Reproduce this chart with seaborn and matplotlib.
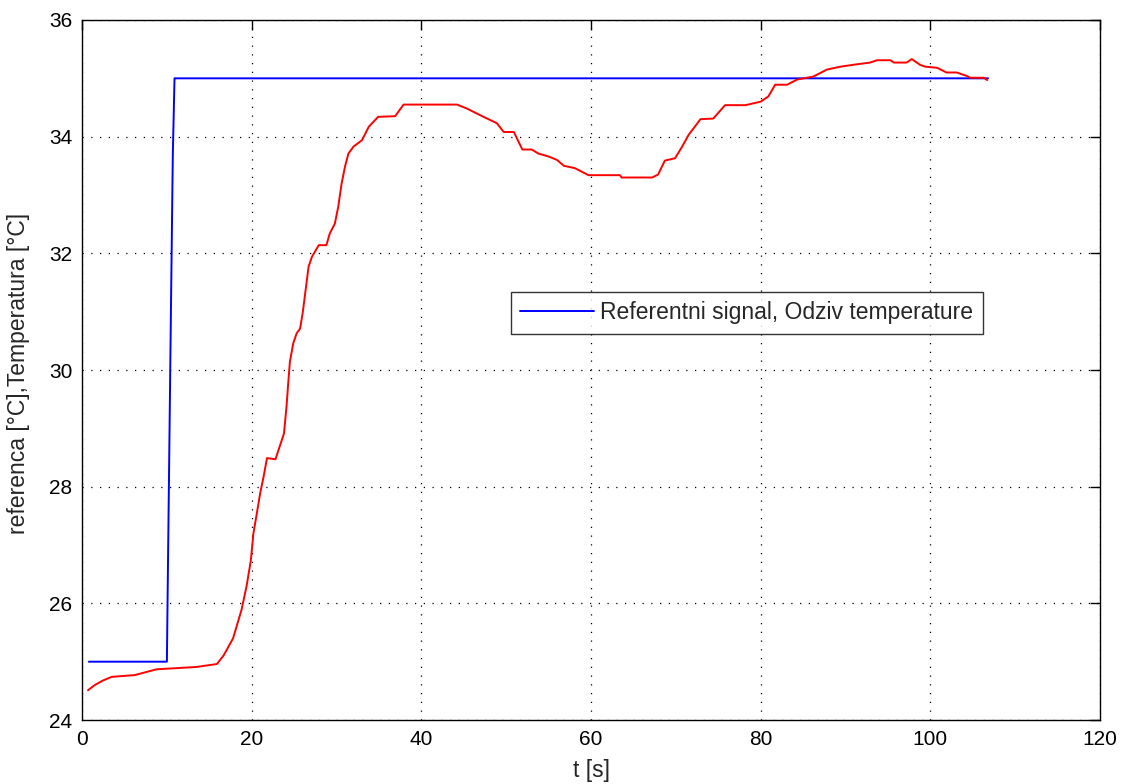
import matplotlib
matplotlib.use("Agg")
import matplotlib.pyplot as plt
import seaborn as sns
import pandas as pd

# Reference (setpoint) signal
ref_t = [0.8, 10.0, 10.1, 10.3, 10.5, 10.7, 10.9, 106.8]
ref_y = [25.0, 25.0, 26.3, 28.8, 31.3, 33.7, 35.0, 35.0]

# Measured temperature response
temp_t = [0.7, 1.5, 2.5, 3.5, 6.2, 8.8, 11.2, 13.5, 15.9, 16.7, 17.8, 18.8, 19.4,
          19.9, 20.2, 20.6, 21.0, 21.4, 21.8, 22.8, 23.3, 23.8, 24.1, 24.3, 24.5,
          24.9, 25.3, 25.7, 26.0, 26.3, 26.7, 27.1, 27.9, 28.8, 29.2, 29.8, 30.2,
          30.6, 31.0, 31.4, 32.0, 33.0, 33.8, 34.9, 36.9, 37.9, 43.4, 44.2, 45.4,
          46.9, 48.9, 49.7, 50.9, 51.9, 53.0, 53.8, 55.0, 56.0, 56.8, 58.1, 59.7,
          63.4, 63.6, 67.2, 67.9, 68.7, 69.9, 70.7, 71.5, 72.9, 74.4, 75.8, 78.2,
          80.0, 80.9, 81.7, 83.1, 84.3, 86.2, 87.8, 89.4, 91.3, 92.9, 93.7, 95.3,
          95.7, 97.2, 97.8, 98.8, 99.4, 100.8, 101.9, 103.1, 104.3, 104.7, 106.3,
          106.7]
temp_y = [24.51, 24.60, 24.68, 24.74, 24.77, 24.87, 24.89, 24.91, 24.96, 25.11,
          25.40, 25.89, 26.30, 26.74, 27.20, 27.54, 27.89, 28.17, 28.49, 28.47,
          28.69, 28.91, 29.37, 29.77, 30.14, 30.46, 30.63, 30.71, 30.97, 31.31,
          31.77, 31.94, 32.14, 32.14, 32.34, 32.51, 32.80, 33.20, 33.49, 33.71,
          33.83, 33.94, 34.17, 34.34, 34.35, 34.55, 34.55, 34.55, 34.48, 34.37,
          34.23, 34.08, 34.08, 33.78, 33.78, 33.71, 33.66, 33.60, 33.50, 33.46,
          33.34, 33.34, 33.30, 33.30, 33.35, 33.59, 33.63, 33.82, 34.03, 34.30,
          34.31, 34.54, 34.54, 34.60, 34.69, 34.89, 34.89, 34.98, 35.03, 35.15,
          35.20, 35.24, 35.27, 35.31, 35.31, 35.27, 35.27, 35.33, 35.23, 35.20,
          35.18, 35.10, 35.10, 35.04, 35.01, 35.01, 34.97]

x_ticks = [0, 20, 40, 60, 80, 100, 120]
y_ticks = [24, 26, 28, 30, 32, 34, 36]
x_label = "t [s]"
y_label = "referenca [°C],Temperatura [°C]"
legend_label = "Referentni signal, Odziv temperature"

sns.set_style("white")
plt.rcParams["font.family"] = ["Liberation Sans", "DejaVu Sans"]

fig = plt.figure(figsize=(11.24, 7.84), dpi=100)
ax = fig.add_axes([0.073, 0.0816, 0.9057, 0.8929])

ref_df = pd.DataFrame({"t": ref_t, "y": ref_y})
temp_df = pd.DataFrame({"t": temp_t, "y": temp_y})

sns.lineplot(data=ref_df, x="t", y="y", ax=ax, color="#0000ff", linewidth=1.4,
             label=legend_label, estimator=None, sort=False)
sns.lineplot(data=temp_df, x="t", y="y", ax=ax, color="#ff0000", linewidth=1.4,
             estimator=None, sort=False)

ax.set_xlim(0, 120)
ax.set_ylim(24, 36)
ax.set_xticks(x_ticks)
ax.set_yticks(y_ticks)
ax.set_xlabel(x_label, fontsize=16.5)
ax.set_ylabel(y_label, fontsize=16.5)
ax.xaxis.set_label_coords(0.5, -0.056)
ax.yaxis.set_label_coords(-0.051, 0.495)

ax.grid(True, color="black", linestyle=(0, (1, 6)), linewidth=0.9)
ax.tick_params(direction="in", length=7, width=1, labelsize=15, pad=7,
               top=True, right=True, color="black", labelcolor="black")
for s in ax.spines.values():
    s.set_visible(True)
    s.set_color("black")
    s.set_linewidth(1.0)

leg = ax.legend(loc="upper left", bbox_to_anchor=(0.4214, 0.611),
                fontsize=16.5, frameon=True, fancybox=False, handlelength=3.2,
                borderpad=0.4, handletextpad=0.3, borderaxespad=0)
leg.get_frame().set_edgecolor("black")
leg.get_frame().set_linewidth(1.0)

fig.savefig("out.png", dpi=100, facecolor="white")
